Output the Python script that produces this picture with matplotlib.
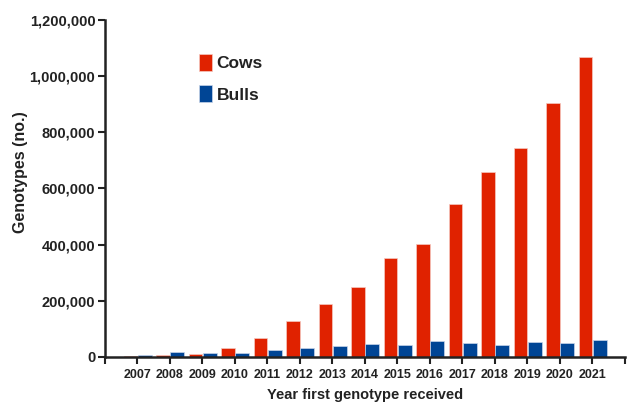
import numpy as np
import matplotlib
matplotlib.use("Agg")
import matplotlib.pyplot as plt
from matplotlib.ticker import FuncFormatter

years = [2007, 2008, 2009, 2010, 2011, 2012, 2013, 2014, 2015, 2016, 2017, 2018, 2019, 2020, 2021]
cows = [3000, 8000, 12000, 31000, 68000, 129000, 190000, 250000, 353000, 401000, 544000, 658000, 743000, 903000, 1068000]
bulls = [6000, 18000, 16000, 16000, 25000, 31000, 38000, 46000, 41000, 56000, 50000, 44000, 52000, 49000, 59000]

fam = ['Liberation Sans', 'DejaVu Sans']

fig = plt.figure(figsize=(6.31, 4.08), dpi=100)
ax = fig.add_axes([0.1664, 0.125, 0.824, 0.826])

x = np.array(years)
ax.bar(x - 0.215, cows, width=0.42, color='#E02200', edgecolor='#f6c9c0', linewidth=0.5, label='Cows')
ax.bar(x + 0.225, bulls, width=0.42, color='#004595', edgecolor='#c9d6ea', linewidth=0.5, label='Bulls')

ax.set_xlim(2006, 2022)
ax.set_ylim(0, 1200000)
ax.set_xticks(range(2006, 2023))
ax.set_xticklabels([''] + [str(y) for y in years] + [''])
ax.set_yticks(range(0, 1200001, 200000))
ax.yaxis.set_major_formatter(FuncFormatter(lambda v, p: '{:,.0f}'.format(v)))

for s in ['top', 'right']:
    ax.spines[s].set_visible(False)
for s in ['left', 'bottom']:
    ax.spines[s].set_linewidth(1.8)
    ax.spines[s].set_color('#222222')

ax.tick_params(axis='both', direction='out', length=5, width=1.5, color='#222222')
ax.tick_params(axis='x', pad=4)
ax.tick_params(axis='y', pad=2)
for lab in ax.get_xticklabels():
    lab.set_family(fam)
    lab.set_fontweight('bold')
    lab.set_fontsize(9)
    lab.set_color('#222222')
for lab in ax.get_yticklabels():
    lab.set_family(fam)
    lab.set_fontweight('bold')
    lab.set_fontsize(10.5)
    lab.set_color('#222222')

ax.set_xlabel('Year first genotype received', family=fam, fontweight='bold', fontsize=10.5, color='#222222', labelpad=5)
ax.set_ylabel('Genotypes (no.)', family=fam, fontweight='bold', fontsize=11.5, color='#222222')
ax.yaxis.set_label_coords(-0.148, 0.55)

leg = ax.legend(loc='upper left', bbox_to_anchor=(0.151, 0.945), frameon=False,
                handlelength=0.75, handleheight=1.1, handletextpad=0.25, labelspacing=0.8,
                prop={'family': fam, 'weight': 'bold', 'size': 12.5})
for t in leg.get_texts():
    t.set_color('#222222')

fig.savefig('out.png', dpi=100)
